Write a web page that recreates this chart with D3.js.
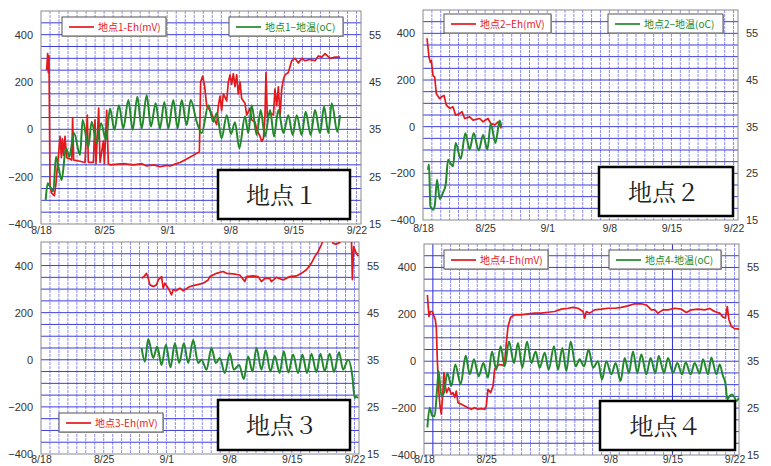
<!DOCTYPE html>
<html>
<head>
<meta charset="utf-8">
<script src="https://cdn.jsdelivr.net/npm/d3@7"></script>
<style>
  body { margin: 0; background: #fff; }
  svg { display: block; font-family: "Liberation Sans", Arial, sans-serif; }
</style>
</head>
<body>
<div id="chart"></div>
<script>
// x axis: days since 8/18
const tickDays = [0, 7, 14, 21, 28, 35];
const tickLabels = ['8/18', '8/25', '9/1', '9/8', '9/15', '9/22'];
const ehTicks = [-400, -200, 0, 200, 400];
const tempTicks = [15, 25, 35, 45, 55];
const stationNames = ['地点１', '地点２', '地点３', '地点４'];

// [day, Eh mV]
const eh1 = [[0.63,250],[0.74,320],[0.81,240],[0.89,310],[1.0,-240],[1.18,-270],[1.48,-280],[1.66,-230],[1.81,-160],[1.96,-100],
  [2.11,-30],[2.26,-120],[2.37,-40],[2.51,-110],[2.66,-30],[2.85,-120],[3.22,-125],[3.4,-130],[3.51,50],[3.62,-130],
  [4.33,-135],[4.88,-140],[5.14,60],[5.25,-140],[5.81,-140],[5.99,40],[6.1,-145],[6.4,90],[6.55,-140],[6.92,-50],
  [7.03,-145],[7.29,80],[7.47,-145],[7.66,-150],[9.13,-145],[10.24,-150],[11.2,-145],[11.72,-155],[12.5,-150],[13.2,-158],
  [13.94,-152],[14.3,-155],[14.68,-150],[15.0,-145],[15.42,-140],[16.16,-125],[16.9,-110],[17.57,-95],[17.71,200],[17.94,225],
  [18.16,180],[18.38,100],[18.75,80],[19.12,50],[19.49,20],[19.67,100],[19.86,140],[20.04,80],[20.23,150],[20.6,120],
  [20.78,200],[20.97,230],[21.15,190],[21.34,235],[21.52,180],[21.71,230],[21.89,150],[22.08,200],[22.26,130],[22.63,110],
  [22.82,60],[23.19,90],[23.37,40],[23.74,30],[23.93,0],[24.3,-30],[24.48,-50],[24.67,-40],[24.85,60],[24.96,240],
  [25.11,50],[25.4,70],[25.78,60],[25.96,170],[26.15,100],[26.33,180],[26.52,60],[26.7,170],[26.89,210],[27.07,230],
  [27.44,240],[27.81,290],[28.18,300],[28.55,280],[28.92,300],[29.29,290],[29.84,295],[30.4,290],[30.77,310],[31.14,305],
  [31.51,320],[32.06,300],[32.62,305],[33.17,305]];

// [day, temperature oC]
const temp1 = [[0.52,20.1],[0.74,23.6],[1.0,22.9],[1.37,21.9],[1.66,29.2],[2.0,26.4],[2.29,24.3],[2.77,31.0],[3.14,29.2],[3.66,34.2],
  [4.33,29.6],[4.62,37.0],[5.25,31.3],[5.62,36.6],[6.18,32.1],[6.66,36.3],[7.21,32.8],[7.66,39.4],[8.14,34.9],[8.65,40.1],
  [9.13,35.2],[9.69,41.2],[10.17,34.9],[10.69,41.9],[11.17,35.2],[11.72,42.2],[12.2,35.6],[12.72,40.5],[13.2,35.2],[13.68,40.8],
  [14.13,35.2],[14.68,41.2],[15.16,35.2],[15.61,41.2],[16.16,35.9],[16.61,41.2],[17.27,36.6],[17.83,34.2],[18.57,40.1],[19.12,36.6],
  [19.49,38.4],[20.04,33.1],[20.6,38.0],[21.08,34.0],[21.52,36.5],[22.0,31.0],[22.63,37.7],[23.0,34.2],[23.37,40.1],[23.93,33.8],
  [24.37,39.1],[24.85,33.5],[25.41,39.1],[25.85,33.5],[26.33,39.1],[26.89,34.2],[27.44,38.0],[27.92,33.8],[28.37,38.0],[28.92,33.8],
  [29.36,38.7],[29.92,33.8],[30.4,39.1],[30.95,34.2],[31.4,39.8],[31.88,34.2],[32.25,40.5],[32.88,34.5],[33.17,38.0]];

const eh2 = [[0.45,379],[0.68,297],[0.83,276],[0.94,283],[1.13,219],[1.32,212],[1.5,141],[1.88,120],[2.07,127],[2.37,134],
  [2.63,92],[3.01,78],[3.38,85],[3.68,49],[4.14,57],[4.4,64],[4.7,35],[5.26,42],[5.64,28],[6.39,35],
  [6.77,21],[7.33,35],[7.63,14],[8.08,7],[8.46,21],[8.83,-7]];

const temp2 = [[0.56,25.8],[0.68,26.9],[0.83,18.0],[1.13,17.2],[1.32,18.0],[1.58,23.7],[1.88,19.5],[2.26,20.9],[2.56,22.6],[2.82,27.9],
  [3.08,27.2],[3.38,26.5],[3.68,31.5],[4.25,28.1],[4.77,33.6],[5.26,30.1],[5.71,33.6],[6.28,29.9],[6.77,33.2],[7.26,30.1],
  [7.63,35.7],[8.16,31.5],[8.65,36.3],[8.83,35.0]];

const eh3 = [[11.23,346],[11.49,353],[11.78,367],[11.97,346],[12.16,318],[12.53,311],[12.9,318],[13.09,339],[13.46,353],[13.64,304],
  [13.83,325],[14.2,304],[14.39,290],[14.57,276],[14.76,297],[15.13,294],[15.5,304],[15.87,293],[16.62,311],[17.36,318],
  [18.1,325],[18.66,339],[18.85,353],[19.59,367],[20.33,375],[20.71,367],[21.45,365],[22.19,360],[22.75,332],[22.94,353],
  [23.68,356],[24.24,353],[24.61,332],[24.98,346],[25.54,346],[25.72,332],[26.28,350],[27.03,339],[27.77,353],[28.51,356],
  [29.07,367],[29.63,382],[30.19,410],[30.56,438],[30.93,459],[31.3,488],[31.67,530],[32.42,520],[32.6,495],[32.97,490],
  [33.35,498],[33.72,530],[34.65,530],[34.76,340],[34.91,480],[35.2,452],[35.43,440]];

const temp3 = [[11.23,37.5],[11.6,34.6],[11.97,39.4],[12.53,35.4],[12.97,37.8],[13.46,33.9],[13.94,38.2],[14.46,33.4],[14.94,38.5],[15.43,34.3],
  [15.95,38.5],[16.43,34.3],[16.99,39.2],[17.55,34.3],[17.92,35.0],[18.48,32.9],[19.03,37.5],[19.52,34.3],[19.96,35.4],[20.52,32.2],
  [21.08,36.4],[21.52,32.9],[22.12,33.9],[22.64,30.9],[23.12,35.7],[23.61,32.5],[24.05,37.5],[24.61,32.9],[25.09,37.0],[25.61,32.5],
  [26.1,35.8],[26.65,32.2],[27.1,36.8],[27.62,32.3],[28.14,36.1],[28.7,32.2],[29.18,36.1],[29.7,32.2],[30.19,36.3],[30.74,32.4],
  [31.19,36.3],[31.67,32.6],[32.23,36.3],[32.71,32.4],[33.27,36.6],[33.72,32.9],[34.28,35.0],[34.76,31.5],[35.02,26.9],[35.13,27.2],
  [35.39,26.9]];

const eh4 = [[0.38,283],[0.56,191],[0.71,212],[0.94,212],[1.13,191],[1.28,177],[1.39,141],[1.5,7],[1.65,-120],[1.8,-191],
  [1.95,-226],[2.1,-148],[2.25,-49],[2.4,-106],[2.55,-134],[2.78,-113],[3.08,-141],[3.27,-134],[3.46,-155],[3.64,-127],
  [3.83,-177],[4.21,-184],[4.58,-191],[4.96,-198],[5.33,-205],[5.71,-198],[6.09,-205],[6.46,-202],[6.84,-205],[7.02,-191],
  [7.21,-120],[7.51,-134],[7.78,-106],[7.96,-35],[8.26,-21],[8.53,-14],[8.9,-18],[9.09,-7],[9.28,78],[9.47,148],
  [9.77,188],[10.22,198],[10.97,198],[11.72,202],[12.47,205],[13.22,205],[13.97,209],[14.73,212],[15.48,222],[16.23,226],
  [16.79,230],[17.36,226],[17.92,212],[18.11,184],[18.29,212],[18.67,205],[19.23,219],[19.98,222],[20.74,226],[21.49,226],
  [22.24,230],[22.99,236],[23.74,245],[24.49,245],[25.06,240],[25.62,219],[26.0,219],[26.37,205],[26.93,219],[27.5,219],
  [28.25,226],[29.0,222],[29.56,208],[30.13,219],[30.88,222],[31.63,219],[32.19,225],[32.76,212],[33.32,205],[33.7,188],
  [33.96,184],[34.18,233],[34.37,177],[34.64,148],[35.01,139],[35.5,137]];

const temp4 = [[0.38,20.9],[0.64,25.1],[0.94,23.3],[1.2,23.3],[1.5,29.7],[1.65,32.9],[1.95,27.6],[2.25,28.3],[2.63,32.5],[3.08,29.7],
  [3.53,34.3],[4.13,30.1],[4.7,36.2],[5.15,32.2],[5.63,35.4],[6.16,31.8],[6.69,34.6],[7.21,31.5],[7.66,37.1],[8.15,33.2],
  [8.64,38.2],[9.09,33.9],[9.58,39.2],[10.14,34.6],[10.59,38.9],[11.08,33.6],[11.61,39.2],[12.1,34.6],[12.58,37.1],[13.04,33.6],
  [13.6,36.8],[14.05,33.2],[14.65,38.2],[15.1,33.2],[15.59,37.8],[16.04,32.9],[16.53,39.2],[17.09,33.9],[17.54,35.4],[18.03,33.9],
  [18.56,37.5],[19.05,33.6],[19.61,35.0],[20.06,31.1],[20.55,35.0],[21.11,32.2],[21.6,34.6],[22.16,30.8],[22.61,35.7],[23.1,32.5],
  [23.55,37.1],[24.04,32.5],[24.49,36.5],[25.06,32.2],[25.54,35.7],[26.07,32.5],[26.45,36.1],[27.05,32.5],[27.5,35.7],[28.06,32.5],
  [28.55,34.6],[29.08,32.2],[29.49,34.8],[30.05,32.2],[30.5,34.6],[31.07,32.4],[31.44,35.4],[32.01,32.2],[32.38,35.8],[32.95,32.2],
  [33.32,34.3],[33.7,31.8],[33.96,30.4],[34.18,26.9],[34.45,27.6],[34.71,27.9],[35.01,27.2],[35.2,26.5],[35.5,27.2]];

const RED = '#e3191c';
const GREEN = '#22882a';

// panel layout
const panels = [
  { left: 41, right: 361, top: 11, bottom: 224, xPad: 3, eh: eh1, temp: temp1, name: stationNames[0],
    box: [218, 170, 132, 49],
    legends: [{ x: 62, y: 17, w: 104, label: '地点1-Eh(mV)', color: RED },
              { x: 229, y: 17, w: 114, label: '地点1−地温(oC)', color: GREEN }] },
  { left: 423, right: 738, top: 10, bottom: 220, xPad: 5, eh: eh2, temp: temp2, name: stationNames[1],
    box: [599, 167, 134, 49],
    legends: [{ x: 444, y: 14, w: 107, label: '地点2−Eh(mV)', color: RED },
              { x: 608, y: 14, w: 115, label: '地点2−地温(oC)', color: GREEN }] },
  { left: 41, right: 359, top: 242, bottom: 454, xPad: 2, eh: eh3, temp: temp3, name: stationNames[2],
    box: [218, 400, 132, 50],
    legends: [{ x: 59, y: 413, w: 104, label: '地点3-Eh(mV)', color: RED }] },
  { left: 424, right: 739, top: 244, bottom: 455, xPad: 1, eh: eh4, temp: temp4, name: stationNames[3],
    box: [600, 401, 135, 49], darkDays: [1, 28],
    legends: [{ x: 444, y: 250, w: 104, label: '地点4-Eh(mV)', color: RED },
              { x: 609, y: 250, w: 112, label: '地点4-地温(oC)', color: GREEN }] }
];

const svg = d3.select('#chart').append('svg')
  .attr('width', 771)
  .attr('height', 466);

panels.forEach((p, i) => drawPanel(p, i));

function drawPanel(p, i) {
  const x = d3.scaleLinear().domain([0, 35.5]).range([p.left, p.right]);
  const y = d3.scaleLinear().domain([-400, 500]).range([p.bottom, p.top]);
  const yT = d3.scaleLinear().domain([15, 60]).range([p.bottom, p.top]);

  const g = svg.append('g').attr('class', 'panel');

  g.append('clipPath').attr('id', 'clip' + i)
    .append('rect')
    .attr('x', p.left).attr('y', p.top)
    .attr('width', p.right - p.left).attr('height', p.bottom - p.top);

  // daily vertical grid
  g.append('g').selectAll('line')
    .data(d3.range(1, 36))
    .enter().append('line')
    .attr('x1', d => x(d)).attr('x2', d => x(d))
    .attr('y1', p.top).attr('y2', p.bottom)
    .style('stroke', d => (p.darkDays || []).includes(d) ? '#2b2bd6' : '#8c8cf0')
    .style('stroke-width', 1)
    .style('stroke-dasharray', d => (p.darkDays || []).includes(d) ? null : '3,1');

  // horizontal grid every 50 mV
  g.append('g').selectAll('line')
    .data(d3.range(-350, 500, 50))
    .enter().append('line')
    .attr('x1', p.left).attr('x2', p.right)
    .attr('y1', d => y(d)).attr('y2', d => y(d))
    .style('stroke', '#3d3dd8')
    .style('stroke-width', 1);

  // frame
  g.append('rect')
    .attr('x', p.left).attr('y', p.top)
    .attr('width', p.right - p.left).attr('height', p.bottom - p.top)
    .style('fill', 'none')
    .style('stroke', '#8a8a8a')
    .style('stroke-width', 1);

  // series
  const lines = g.append('g').attr('clip-path', `url(#clip${i})`);
  lines.append('path')
    .datum(p.eh)
    .attr('d', d3.line().x(d => x(d[0])).y(d => y(d[1])))
    .style('fill', 'none')
    .style('stroke', RED)
    .style('stroke-width', 1.7)
    .style('stroke-linejoin', 'round');

  lines.append('path')
    .datum(p.temp)
    .attr('d', d3.line().curve(d3.curveMonotoneX).x(d => x(d[0])).y(d => yT(d[1])))
    .style('fill', 'none')
    .style('stroke', GREEN)
    .style('stroke-width', 2)
    .style('stroke-linejoin', 'round');

  // axes
  const styleAxis = size => sel => {
    sel.select('.domain').remove();
    sel.selectAll('text').style('font-size', size).style('fill', '#333');
  };

  g.append('g')
    .attr('transform', `translate(${p.left},0)`)
    .call(d3.axisLeft(y).tickValues(ehTicks).tickSize(0).tickPadding(8))
    .call(styleAxis('11px'));

  g.append('g')
    .attr('transform', `translate(${p.right},0)`)
    .call(d3.axisRight(yT).tickValues(tempTicks).tickSize(0).tickPadding(8))
    .call(styleAxis('11px'));

  g.append('g')
    .attr('transform', `translate(0,${p.bottom})`)
    .call(d3.axisBottom(x).tickValues(tickDays).tickFormat((d, k) => tickLabels[k]).tickSize(0).tickPadding(p.xPad))
    .call(styleAxis('10.5px'));

  // legends
  p.legends.forEach(l => {
    const lg = g.append('g').attr('transform', `translate(${l.x},${l.y})`);
    lg.append('rect')
      .attr('x', 1).attr('y', 1)
      .attr('width', l.w).attr('height', 19)
      .style('fill', '#bbb');
    lg.append('rect')
      .attr('width', l.w).attr('height', 19)
      .style('fill', '#fff')
      .style('stroke', '#555')
      .style('stroke-width', 1);
    lg.append('line')
      .attr('x1', 7).attr('x2', 32)
      .attr('y1', 10).attr('y2', 10)
      .style('stroke', l.color)
      .style('stroke-width', 1.7);
    lg.append('text')
      .attr('x', 36).attr('y', 14)
      .style('font-family', '"Noto Sans CJK JP", "Liberation Sans", sans-serif')
      .style('font-size', '10px')
      .style('fill', l.color)
      .text(l.label);
  });

  // station label box
  const [bx, by, bw, bh] = p.box;
  g.append('rect')
    .attr('x', bx).attr('y', by)
    .attr('width', bw).attr('height', bh)
    .style('fill', '#fff')
    .style('stroke', '#000')
    .style('stroke-width', 2.5);
  g.append('text')
    .attr('x', bx + bw / 2 - 2).attr('y', by + bh / 2 + 1)
    .attr('dy', '0.35em')
    .style('text-anchor', 'middle')
    .style('font-family', '"Noto Serif CJK JP", "Noto Sans CJK JP", serif')
    .style('font-size', '24px')
    .style('fill', '#222')
    .text(p.name);
}
</script>
</body>
</html>
